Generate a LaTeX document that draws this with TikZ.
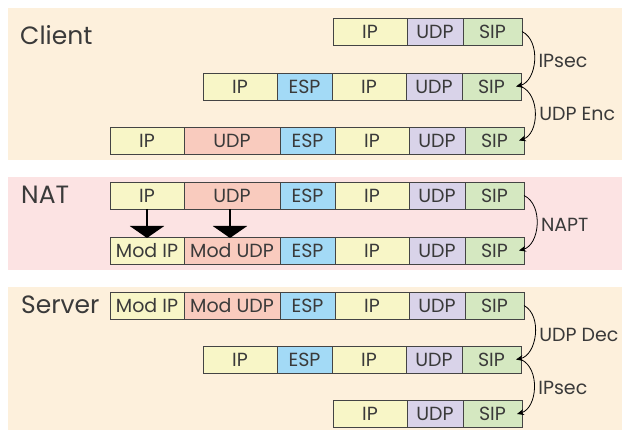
\documentclass[tikz,border=0pt]{standalone}
\usepackage{fontspec}
\setmainfont{Poppins}
\usetikzlibrary{arrows.meta,positioning}

\definecolor{beige}{HTML}{FDF0DC}
\definecolor{rose}{HTML}{FCE3E3}
\definecolor{ipyellow}{HTML}{F8F6C7}
\definecolor{udpred}{HTML}{F9CBBE}
\definecolor{espblue}{HTML}{A3DAF6}
\definecolor{udplilac}{HTML}{D9D3E9}
\definecolor{sipgreen}{HTML}{D5E8C1}
\definecolor{edge}{HTML}{444444}
\definecolor{ink}{HTML}{3A3A3A}

\begin{document}
\begin{tikzpicture}[x=1pt,y=-1pt,
		field/.style={draw=edge, line width=0.8pt, inner sep=0pt, outer sep=0pt, minimum height=27pt, text=ink, font=\fontsize{19}{19}\selectfont},
		ipf/.style={field, fill=ipyellow, minimum width=74pt},
		udpo/.style={field, fill=udpred, minimum width=96pt},
		espf/.style={field, fill=espblue, minimum width=55pt},
		udpi/.style={field, fill=udplilac, minimum width=56pt},
		sipf/.style={field, fill=sipgreen, minimum width=59pt},
		proc/.style={anchor=west, text=ink, inner sep=0pt, font=\fontsize{19}{19}\selectfont},
		title/.style={anchor=west, text=ink, inner sep=0pt, font=\fontsize{25}{25}\selectfont},
		hop/.style={-{Stealth[length=7pt,width=6pt]}, line width=0.8pt, bend left=70},
		natarrow/.style={-{Triangle[length=12pt,width=34pt]}, line width=2.5pt}]
		\useasboundingbox (0,0) rectangle (623,430);
		% panels
		\fill[beige] (8,8) rectangle (622,160);
		\fill[rose] (8,177) rectangle (622,270);
		\fill[beige] (8,287) rectangle (622,430);
		\node[title] (client) at (20,35) {Client};
		\node[title] (nat) at (21,195) {NAT};
		\node[title] (server) at (21,305) {Server};
		% client
		\node[ipf, anchor=west] (c1ip) at (333,31.5) {IP};
		\node[udpi, right=0pt of c1ip] (c1udp) {UDP};
		\node[sipf, right=0pt of c1udp] (c1sip) {SIP};
		\node[ipf, anchor=west] (c2ip) at (203,86.5) {IP};
		\node[espf, right=0pt of c2ip] (c2esp) {ESP};
		\node[ipf, right=0pt of c2esp] (c2ipi) {IP};
		\node[udpi, right=0pt of c2ipi] (c2udp) {UDP};
		\node[sipf, right=0pt of c2udp] (c2sip) {SIP};
		\node[ipf, anchor=west] (c3ip) at (110,140.5) {IP};
		\node[udpo, right=0pt of c3ip] (c3udpo) {UDP};
		\node[espf, right=0pt of c3udpo] (c3esp) {ESP};
		\node[ipf, right=0pt of c3esp] (c3ipi) {IP};
		\node[udpi, right=0pt of c3ipi] (c3udp) {UDP};
		\node[sipf, right=0pt of c3udp] (c3sip) {SIP};
		\draw[hop] (c1sip.east) to node[proc, right=4pt] (ipsec) {IPsec} ([xshift=-5pt]c2sip.east);
		\draw[hop] (c2sip.east) to node[proc, right=4pt] (udpenc) {UDP Enc} ([xshift=-5pt]c3sip.east);
		% nat
		\node[ipf, anchor=west] (n1ip) at (110,195.5) {IP};
		\node[udpo, right=0pt of n1ip] (n1udpo) {UDP};
		\node[espf, right=0pt of n1udpo] (n1esp) {ESP};
		\node[ipf, right=0pt of n1esp] (n1ipi) {IP};
		\node[udpi, right=0pt of n1ipi] (n1udp) {UDP};
		\node[sipf, right=0pt of n1udp] (n1sip) {SIP};
		\node[ipf, anchor=west] (n2ip) at (110,250.5) {Mod IP};
		\node[udpo, right=0pt of n2ip] (n2udpo) {Mod UDP};
		\node[espf, right=0pt of n2udpo] (n2esp) {ESP};
		\node[ipf, right=0pt of n2esp] (n2ipi) {IP};
		\node[udpi, right=0pt of n2ipi] (n2udp) {UDP};
		\node[sipf, right=0pt of n2udp] (n2sip) {SIP};
		\draw[natarrow] (n1ip.south) -- ([yshift=-1pt]n2ip.north);
		\draw[natarrow] ([xshift=-2pt]n1udpo.south) -- ([xshift=-2pt,yshift=-1pt]n2udpo.north);
		\draw[hop] (n1sip.east) to node[proc, right=4pt] (napt) {NAPT} ([xshift=-5pt]n2sip.east);
		% server
		\node[ipf, anchor=west] (s1ip) at (110,305.5) {Mod IP};
		\node[udpo, right=0pt of s1ip] (s1udpo) {Mod UDP};
		\node[espf, right=0pt of s1udpo] (s1esp) {ESP};
		\node[ipf, right=0pt of s1esp] (s1ipi) {IP};
		\node[udpi, right=0pt of s1ipi] (s1udp) {UDP};
		\node[sipf, right=0pt of s1udp] (s1sip) {SIP};
		\node[ipf, anchor=west] (s2ip) at (203,359.5) {IP};
		\node[espf, right=0pt of s2ip] (s2esp) {ESP};
		\node[ipf, right=0pt of s2esp] (s2ipi) {IP};
		\node[udpi, right=0pt of s2ipi] (s2udp) {UDP};
		\node[sipf, right=0pt of s2udp] (s2sip) {SIP};
		\node[ipf, anchor=west] (s3ip) at (333,414) {IP};
		\node[udpi, right=0pt of s3ip] (s3udp) {UDP};
		\node[sipf, right=0pt of s3udp] (s3sip) {SIP};
		\draw[hop] (s1sip.east) to node[proc, right=4pt] (udpdec) {UDP Dec} ([xshift=-5pt]s2sip.east);
		\draw[hop] (s2sip.east) to node[proc, right=4pt] (ipsec2) {IPsec} ([xshift=-5pt]s3sip.east);
	\end{tikzpicture}
\end{document}
